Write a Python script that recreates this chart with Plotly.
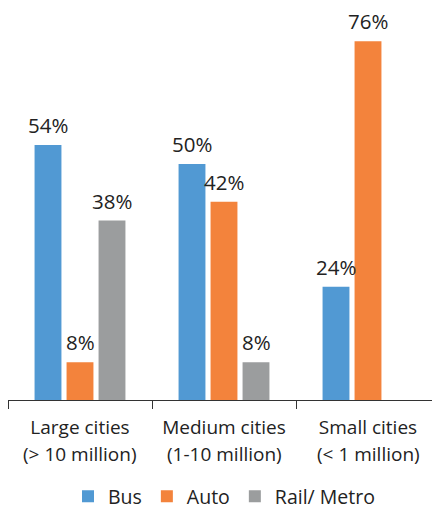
import plotly.graph_objects as go

# data
city_groups = ["Large cities", "Medium cities", "Small cities"]
city_ranges = ["(> 10 million)", "(1-10 million)", "(< 1 million)"]
bus = [54, 50, 24]
auto = [8, 42, 76]
rail = [38, 8, None]

series = [
    ("Bus", bus, "#5199D3"),
    ("Auto", auto, "#F3833C"),
    ("Rail/ Metro", rail, "#9B9D9E"),
]

# the page body adds an 8px offset, so the figure is drawn 8px smaller
W, H = 432, 509
margin = dict(l=0, r=0, t=12, b=117)
bargap = 1 / 3
font = "'Open Sans', sans-serif"

fig = go.Figure()
for name, vals, color in series:
    fig.add_trace(go.Bar(
        name=name, x=city_groups, y=vals,
        marker=dict(color=color, line_width=0),
    ))

# value labels above bars, shifted to the bar slots of each group
plot_w = W - margin["l"] - margin["r"]
slot = plot_w / len(city_groups) * (1 - bargap) / len(series)
annotations = []
for j, (name, vals, color) in enumerate(series):
    for cat, v in zip(city_groups, vals):
        if v is None:
            continue
        annotations.append(dict(
            x=cat, y=v, xref="x", yref="y", text=f"{v}%",
            showarrow=False, yanchor="bottom", xshift=(j - 1) * slot, yshift=4,
            font=dict(size=20.5, color="#222222", family=font),
        ))

# second line of the category labels
for cat, sub in zip(city_groups, city_ranges):
    annotations.append(dict(
        x=cat, y=0, xref="x", yref="paper", text=sub, showarrow=False,
        yanchor="top", yshift=-39,
        font=dict(size=19, color="#222222", family=font),
    ))

fig.update_layout(
    width=W, height=H, margin=margin,
    barmode="group", bargap=bargap, bargroupgap=0.16,
    plot_bgcolor="white", paper_bgcolor="white",
    font=dict(family=font, size=19, color="#222222"),
    annotations=annotations,
    showlegend=True,
    legend=dict(
        orientation="h", x=0.5, xanchor="center",
        yref="container", y=0.04, yanchor="middle",
        font=dict(size=19.5, color="#222222"), traceorder="normal",
    ),
    xaxis=dict(
        showline=True, linecolor="#333333", linewidth=1,
        ticks="outside", tickson="boundaries", ticklen=8, tickcolor="#333333",
        tickfont=dict(size=19, color="#222222"), ticklabelstandoff=10,
        showgrid=False,
    ),
    yaxis=dict(visible=False, range=[0, 80.5]),
)

fig.write_html("out.html")
